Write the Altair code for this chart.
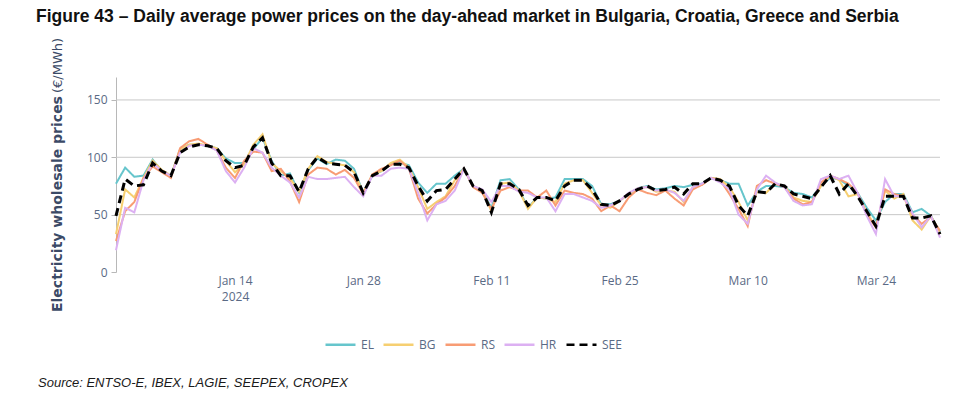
import altair as alt
import pandas as pd

# Daily day-ahead prices, 1 Jan - 31 Mar 2024 (EUR/MWh)
dates = pd.date_range("2024-01-01", "2024-03-31", freq="D").strftime("%Y-%m-%d").tolist()

el = [77, 91, 83, 84, 98, 88, 84, 107, 111, 111, 110, 108, 99, 95, 95, 107, 117, 97, 84, 86,
      69, 89, 99, 94, 98, 97, 90, 69, 84, 88, 94, 95, 93, 78, 69, 77, 77, 84, 90, 75,
      71, 56, 80, 81, 72, 56, 65, 64, 65, 81, 81, 81, 75, 59, 59, 62, 68, 73, 75, 72,
      73, 75, 74, 76, 77, 82, 80, 77, 77, 58, 70, 75, 75, 74, 69, 68, 65, 75, 82, 81,
      75, 69, 56, 45, 61, 68, 68, 52, 55, 49, 35]
bg = [33, 72, 65, 82, 97, 89, 84, 107, 111, 112, 110, 108, 97, 87, 94, 111, 120, 95, 88, 82,
      70, 90, 101, 96, 94, 93, 87, 69, 85, 88, 95, 98, 91, 74, 55, 61, 66, 80, 90, 75,
      71, 53, 77, 78, 71, 55, 65, 64, 61, 77, 80, 80, 69, 58, 56, 62, 68, 73, 74, 70,
      71, 70, 61, 74, 76, 82, 81, 74, 61, 45, 70, 69, 77, 75, 65, 62, 61, 75, 84, 80,
      66, 68, 52, 39, 71, 64, 68, 45, 37, 49, 33]
rs = [27, 53, 61, 82, 92, 87, 82, 108, 114, 116, 111, 106, 91, 82, 97, 105, 104, 88, 90, 79,
      61, 85, 91, 90, 85, 89, 82, 68, 85, 90, 93, 97, 90, 64, 51, 59, 65, 75, 90, 74,
      69, 55, 71, 74, 71, 71, 65, 71, 58, 71, 69, 68, 64, 53, 58, 53, 65, 72, 69, 67,
      71, 64, 58, 72, 76, 82, 80, 68, 55, 40, 75, 80, 77, 74, 64, 59, 61, 78, 84, 81,
      77, 69, 50, 39, 72, 68, 66, 50, 42, 48, 36]
hr = [19, 56, 52, 80, 95, 88, 84, 104, 110, 111, 110, 106, 88, 78, 91, 108, 104, 91, 84, 78,
      65, 83, 81, 81, 82, 83, 74, 66, 84, 84, 90, 91, 90, 69, 45, 59, 62, 71, 90, 75,
      72, 61, 75, 75, 70, 69, 65, 65, 53, 68, 68, 65, 62, 56, 58, 62, 69, 73, 74, 71,
      72, 69, 62, 74, 77, 82, 78, 72, 50, 42, 72, 84, 78, 74, 62, 58, 59, 81, 84, 81,
      84, 69, 49, 33, 81, 66, 66, 51, 39, 49, 30]
see = [49, 81, 75, 76, 95, 88, 84, 104, 109, 111, 110, 108, 97, 91, 93, 109, 117, 95, 84, 84,
       70, 90, 100, 95, 94, 93, 87, 69, 84, 88, 94, 94, 91, 75, 62, 71, 72, 81, 90, 75,
       71, 52, 77, 77, 72, 58, 65, 65, 62, 75, 80, 80, 72, 59, 58, 62, 68, 72, 75, 71,
       72, 74, 68, 77, 77, 82, 80, 75, 58, 49, 70, 69, 77, 75, 68, 66, 64, 74, 84, 68,
       77, 66, 53, 40, 66, 66, 66, 47, 47, 49, 33]

zones = ["EL", "BG", "RS", "HR", "SEE"]
zone_colors = ["#66C5CC", "#F6CF71", "#F89C74", "#DCB0F2", "#000000"]
zone_dashes = [[1, 0], [1, 0], [1, 0], [1, 0], [8, 5]]
grid_values = [50, 100, 150]
tick_dates = ["2024-01-14", "2024-01-28", "2024-02-11", "2024-02-25", "2024-03-10", "2024-03-24"]

title_text = "Figure 43 \u2013 Daily average power prices on the day-ahead market in Bulgaria, Croatia, Greece and Serbia"
y_title_main = "Electricity wholesale prices"
y_title_unit = "(\u20ac/MWh)"
source_text = "Source: ENTSO-E, IBEX, LAGIE, SEEPEX, CROPEX"

series = {"EL": el, "BG": bg, "RS": rs, "HR": hr, "SEE": see}
df = pd.DataFrame(
    [{"date": d, "zone": z, "price": v} for z, vals in series.items() for d, v in zip(dates, vals)]
)

LABEL = "#5a6a85"
FONT = "Open Sans"

tick_values = [
    alt.DateTime(year=int(t[:4]), month=int(t[5:7]), date=int(t[8:]), utc=True) for t in tick_dates
]

x_enc = alt.X(
    "date:T",
    scale=alt.Scale(type="utc", domain=["2024-01-01", "2024-03-31"]),
    axis=alt.Axis(
        values=tick_values,
        labelExpr="utcFormat(datum.value, '%b %d') == 'Jan 14' ? ['Jan 14', '2024'] : utcFormat(datum.value, '%b %d')",
        grid=False, domain=False, ticks=False, title=None,
        labelColor=LABEL, labelFontSize=12, labelFont=FONT, labelPadding=3, labelLineHeight=16,
        labelBaseline="top",
    ),
)
y_scale = alt.Scale(domain=[0, 170], nice=False, zero=True)
y_axis = alt.Axis(
    values=[0, 50, 100, 150], grid=False, title=None,
    domainColor="#b8b8b8", tickColor="#b8b8b8", tickSize=5,
    labelColor=LABEL, labelFontSize=12, labelFont=FONT, labelPadding=4,
)
y_enc = alt.Y("price:Q", scale=y_scale, axis=y_axis)

legend = alt.Legend(
    title=None, orient="none", direction="horizontal", legendX=208, legendY=251,
    symbolType="stroke", symbolSize=900, symbolStrokeWidth=2.5,
    labelColor=LABEL, labelFontSize=12, labelFont=FONT, labelOffset=4,
    columnPadding=4, padding=0,
)
color_enc = alt.Color("zone:N", scale=alt.Scale(domain=zones, range=zone_colors), legend=legend)
dash_enc = alt.StrokeDash("zone:N", scale=alt.Scale(domain=zones, range=zone_dashes), legend=legend)

# horizontal gridlines at 50 / 100 / 150 (none along the zero line)
grid = alt.Chart(pd.DataFrame({"price": grid_values})).mark_rule(color="#c8c8c8", strokeWidth=1).encode(
    y=y_enc
)

countries = alt.Chart(df[df.zone != "SEE"]).mark_line(strokeWidth=2).encode(
    x=x_enc, y=y_enc, color=color_enc, strokeDash=dash_enc
)
regional = alt.Chart(df[df.zone == "SEE"]).mark_line(strokeWidth=3).encode(
    x=x_enc, y=y_enc, color=color_enc, strokeDash=dash_enc
)

y_title_a = alt.Chart(pd.DataFrame({"t": [y_title_main]})).mark_text(
    angle=270, align="left", baseline="middle", font="DejaVu Sans", fontSize=14, fontWeight="bold", color="#3b4a66"
).encode(text="t:N", x=alt.value(-58), y=alt.value(235))
y_title_b = alt.Chart(pd.DataFrame({"t": [y_title_unit]})).mark_text(
    angle=270, align="left", baseline="middle", font="DejaVu Sans", fontSize=13, color="#3b4a66"
).encode(text="t:N", x=alt.value(-58), y=alt.value(16))
source = alt.Chart(pd.DataFrame({"t": [source_text]})).mark_text(
    align="left", baseline="middle", font="Liberation Sans", fontSize=13, fontStyle="italic", color="#1a1a1a"
).encode(text="t:N", x=alt.value(-78), y=alt.value(306))

chart = alt.layer(grid, countries, regional, y_title_a, y_title_b, source).properties(
    width=824,
    height=195,
    autosize=alt.AutoSizeParams(type="none"),
    padding={"left": 116, "top": 77, "right": 36, "bottom": 135},
    title=alt.TitleParams(
        title_text, anchor="start", frame="group", dx=-80, font="Liberation Sans", fontSize=17.5,
        fontWeight="bold", color="#111111", offset=12,
    ),
).configure_view(stroke=None).resolve_scale(color="shared", strokeDash="shared")

chart.save("out.html", embed_options={"renderer": "svg", "actions": False})
